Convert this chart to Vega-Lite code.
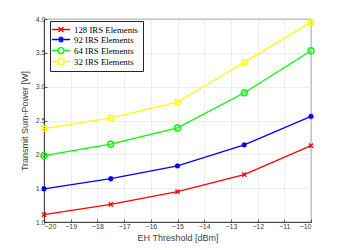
{
  "$schema": "https://vega.github.io/schema/vega-lite/v6.json",
  "autosize": "none",
  "width": 267,
  "height": 203,
  "padding": {"left": 44, "top": 19, "right": 33, "bottom": 28},
  "background": "white",
  "config": {
    "view": {"stroke": "#262626", "strokeWidth": 0.8},
    "axis": {
      "labelFont": "Liberation Sans",
      "titleFont": "Liberation Sans",
      "labelFontSize": 7,
      "titleFontSize": 9,
      "titleFontWeight": "normal",
      "labelColor": "#404040",
      "titleColor": "#404040",
      "gridColor": "#e6e6e6",
      "gridWidth": 0.7,
      "domainColor": "#262626",
      "domainWidth": 0.8,
      "tickColor": "#262626",
      "tickSize": -3,
      "tickWidth": 0.7
    }
  },
  "data": {
    "values": [
      {"x": -20, "y": 1.11, "s": "128 IRS Elements"},
      {"x": -17.5, "y": 1.26, "s": "128 IRS Elements"},
      {"x": -15, "y": 1.45, "s": "128 IRS Elements"},
      {"x": -12.5, "y": 1.70, "s": "128 IRS Elements"},
      {"x": -10, "y": 2.13, "s": "128 IRS Elements"},
      {"x": -20, "y": 1.49, "s": "92 IRS Elements"},
      {"x": -17.5, "y": 1.64, "s": "92 IRS Elements"},
      {"x": -15, "y": 1.83, "s": "92 IRS Elements"},
      {"x": -12.5, "y": 2.14, "s": "92 IRS Elements"},
      {"x": -10, "y": 2.56, "s": "92 IRS Elements"},
      {"x": -20, "y": 1.98, "s": "64 IRS Elements"},
      {"x": -17.5, "y": 2.15, "s": "64 IRS Elements"},
      {"x": -15, "y": 2.39, "s": "64 IRS Elements"},
      {"x": -12.5, "y": 2.91, "s": "64 IRS Elements"},
      {"x": -10, "y": 3.53, "s": "64 IRS Elements"},
      {"x": -20, "y": 2.38, "s": "32 IRS Elements"},
      {"x": -17.5, "y": 2.54, "s": "32 IRS Elements"},
      {"x": -15, "y": 2.77, "s": "32 IRS Elements"},
      {"x": -12.5, "y": 3.36, "s": "32 IRS Elements"},
      {"x": -10, "y": 3.95, "s": "32 IRS Elements"}
    ]
  },
  "encoding": {
    "x": {
      "field": "x", "type": "quantitative",
      "scale": {"domain": [-20, -10], "nice": false, "zero": false},
      "axis": {"values": [-20, -19, -18, -17, -16, -15, -14, -13, -12, -11, -10], "title": "EH Threshold [dBm]", "labelPadding": 3, "titlePadding": 4}
    },
    "y": {
      "field": "y", "type": "quantitative",
      "scale": {"domain": [1, 4], "nice": false, "zero": false},
      "axis": {"values": [1, 1.5, 2, 2.5, 3, 3.5, 4], "title": "Transmit Sum-Power [W]", "labelPadding": 2, "titlePadding": 6}
    }
  },
  "layer": [
    {
      "mark": {"type": "line", "strokeWidth": 1.3},
      "encoding": {
        "color": {
          "field": "s", "type": "nominal", "legend": null,
          "scale": {"domain": ["128 IRS Elements", "92 IRS Elements", "64 IRS Elements", "32 IRS Elements"], "range": ["#ff0000", "#0000ff", "#00ff00", "#ffff00"]}
        }
      }
    },
    {
      "mark": {"type": "point", "filled": false, "strokeWidth": 1.4, "size": 36, "opacity": 1},
      "encoding": {
        "color": {
          "field": "s", "type": "nominal", "legend": null,
          "scale": {"domain": ["128 IRS Elements", "92 IRS Elements", "64 IRS Elements", "32 IRS Elements"], "range": ["#ff0000", "#0000ff", "#00ff00", "#ffff00"]}
        },
        "shape": {
          "field": "s", "type": "nominal", "legend": null,
          "scale": {"domain": ["128 IRS Elements", "92 IRS Elements", "64 IRS Elements", "32 IRS Elements"], "range": ["M-0.7,-0.7L0.7,0.7M-0.7,0.7L0.7,-0.7", "M-0.9,0L0.9,0M0,-0.9L0,0.9M-0.64,-0.64L0.64,0.64M-0.64,0.64L0.64,-0.64", "circle", "M-0.8,-0.8L0.8,-0.8L0.8,0.8L-0.8,0.8Z"]}
        }
      }
    },
    {
      "mark": {"type": "point", "filled": false, "opacity": 0},
      "encoding": {
        "color": {
          "field": "s", "type": "nominal",
          "scale": {"domain": ["128 IRS Elements", "92 IRS Elements", "64 IRS Elements", "32 IRS Elements"], "range": ["#ff0000", "#0000ff", "#00ff00", "#ffff00"]},
          "legend": {
            "title": null, "orient": "none", "legendX": 6, "legendY": 2,
            "labelFont": "Liberation Serif", "labelFontSize": 8.8, "labelColor": "#000000",
            "symbolSize": 49, "symbolStrokeWidth": 1.3, "symbolOffset": 2.5, "labelOffset": 8.5,
            "padding": 4, "rowPadding": -2.8, "strokeColor": "#262626", "fillColor": "white", "labelLimit": 200
          }
        },
        "shape": {
          "field": "s", "type": "nominal",
          "scale": {"domain": ["128 IRS Elements", "92 IRS Elements", "64 IRS Elements", "32 IRS Elements"], "range": ["M-2.6,0L2.6,0M-0.7,-0.7L0.7,0.7M-0.7,0.7L0.7,-0.7", "M-2.6,0L2.6,0M0,-0.9L0,0.9M-0.64,-0.64L0.64,0.64M-0.64,0.64L0.64,-0.64", "M-2.6,0L-0.85,0M0.85,0L2.6,0M-0.85,0A0.85,0.85,0,1,1,0.85,0A0.85,0.85,0,1,1,-0.85,0Z", "M-2.6,0L-0.8,0M0.8,0L2.6,0M-0.8,-0.8L0.8,-0.8L0.8,0.8L-0.8,0.8Z"]},
          "legend": {"title": null}
        }
      }
    }
  ],
  "resolve": {"scale": {"color": "independent", "shape": "independent"}}
}
